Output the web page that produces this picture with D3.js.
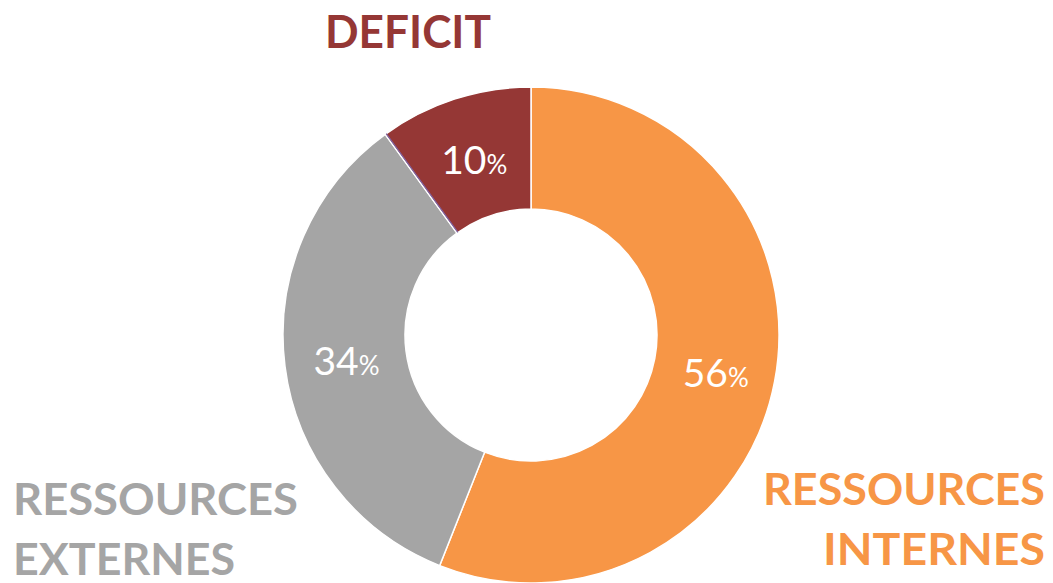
<!DOCTYPE html>
<html>
<head>
<meta charset="utf-8">
<script src="https://cdn.jsdelivr.net/npm/d3@7"></script>
<style>
body { margin: 0; background: #fff; }
text { font-family: Lato, "Open Sans", sans-serif; }
</style>
</head>
<body>
<script>
// données du graphique
var categories = ["RESSOURCES INTERNES", "RESSOURCES EXTERNES", "AUTRE", "DEFICIT"];
var values = [56, 34, 0, 10];
var colors = ["#F79646", "#A5A5A5", "#8064A2", "#953735"];

var width = 1053,
height = 583;
var center = { x : 531 , y : 335 };
var outerR = 248,
innerR = 126;

var svg = d3.select("body").append("svg")
.attr("width", width)
.attr("height", height);

var data = categories.map(function(c, i) {
    return { name: c, value: values[i], color: colors[i] };
    });

var pie = d3.pie()
.sort(null)
.value(function(d) { return d.value; });

var arc = d3.arc()
.innerRadius(innerR)
.outerRadius(outerR);

var g = svg.append("g")
.attr("transform", "translate(" + center.x + "," + center.y + ")");

var slices = pie(data);
// la tranche vide (0%) est dessinée en dernier, sinon le bord blanc la cache
var ordered = slices.filter(function(d) { return d.data.value > 0; })
.concat(slices.filter(function(d) { return d.data.value == 0; }));

g.selectAll("path")
.data(ordered)
.enter().append("path")
.attr("d", arc)
.style("fill", function(d) { return d.data.color; })
.style("stroke", function(d) { return d.data.value == 0 ? d.data.color : "#fff"; })
.style("stroke-width", function(d) { return d.data.value == 0 ? 1.2 : 1.5; })
.attr("transform", function(d) {
    // petit décalage pour que le trait violet soit côté rouge
    if (d.data.value != 0) return null;
    var a = d.startAngle;
    return "translate(" + (Math.cos(a) * 1.2) + "," + (Math.sin(a) * 1.2) + ")";
    });

// étiquettes de pourcentage
var lbl = g.selectAll("text.pct")
.data(slices.filter(function(d) { return d.data.value > 0; }))
.enter().append("text")
.attr("class", "pct")
.attr("transform", function(d) {
    var c = arc.centroid(d);
    return "translate(" + (c[0] + 1) + "," + (c[1] + 17) + ")";
    })
.attr("text-anchor", "middle")
.style("fill", "#fff");

lbl.append("tspan")
.style("font-size", "39px")
.text(function(d) { return d.data.value; });
lbl.append("tspan")
.style("font-size", "26px")
.text("%");

// titres des catégories
var titles = [
    { lines: ["DEFICIT"], lens: [166], color: colors[3], x: 408, y: 48, anchor: "middle", size: 46 },
    { lines: ["RESSOURCES", "EXTERNES"], lens: [285, 222], color: colors[1], x: 13, y: 515, anchor: "start", size: 43 },
    { lines: ["RESSOURCES", "INTERNES"], lens: [282, 222], color: colors[0], x: 1045, y: 505, anchor: "end", size: 43 }
    ];

titles.forEach(function(t) {
    t.lines.forEach(function(l, i) {
    svg.append("text")
    .attr("x", t.x)
    .attr("y", t.y + i * 60)
    .attr("text-anchor", t.anchor)
    .attr("textLength", t.lens[i])
    .attr("lengthAdjust", "spacingAndGlyphs")
    .style("font-size", t.size + "px")
    .style("font-weight", "bold")
    .style("fill", t.color)
    .text(l);
    });
    });
</script>
</body>
</html>
